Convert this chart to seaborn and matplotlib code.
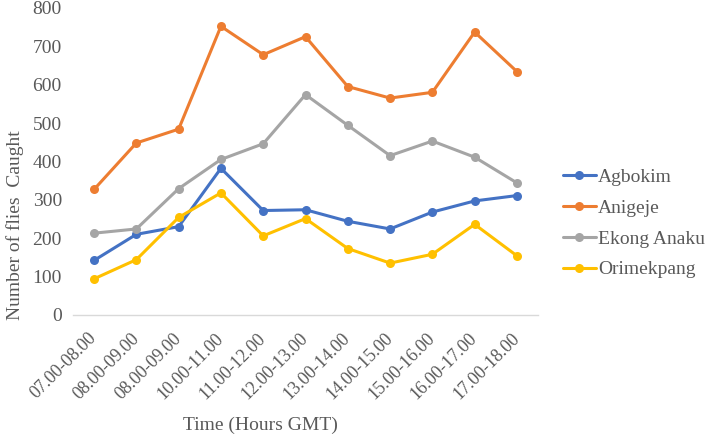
import pandas as pd
import matplotlib.pyplot as plt
import seaborn as sns

# time slots as printed on the chart (the third one is repeated in the source)
times = ['07.00-08.00', '08.00-09.00', '08.00-09.00', '10.00-11.00', '11.00-12.00',
         '12.00-13.00', '13.00-14.00', '14.00-15.00', '15.00-16.00', '16.00-17.00',
         '17.00-18.00']

agbokim = [142, 210, 230, 382, 272, 274, 244, 224, 268, 297, 311]
anigeje = [327, 448, 484, 752, 678, 725, 595, 565, 580, 737, 634]
ekong_anaku = [213, 224, 329, 405, 446, 574, 494, 415, 453, 411, 344]
orimekpang = [94, 144, 254, 318, 206, 251, 173, 135, 158, 236, 154]

sites = ['Agbokim', 'Anigeje', 'Ekong Anaku', 'Orimekpang']
colors = ['#4472C4', '#ED7D31', '#A5A5A5', '#FFC000']

rows = []
for site, vals in zip(sites, [agbokim, anigeje, ekong_anaku, orimekpang]):
    for i, v in enumerate(vals):
        rows.append({'pos': i, 'flies': v, 'site': site})
df = pd.DataFrame(rows)

sns.set_style('white')
plt.rcParams['font.family'] = ['Liberation Serif', 'DejaVu Serif']

fig = plt.figure(figsize=(7.08, 4.38), dpi=100)
ax = fig.add_axes([0.103, 0.281, 0.657, 0.701])

sns.lineplot(data=df, x='pos', y='flies', hue='site', palette=colors,
             marker='o', markersize=6.5, markeredgewidth=0, linewidth=2.2,
             sort=False, ax=ax)

ax.set_xlim(-0.5, len(times) - 0.5)
ax.set_ylim(0, 800)
ax.set_yticks(range(0, 801, 100))
ax.set_xticks(range(len(times)))
ax.set_xticklabels(times, rotation=45, ha='right', va='center',
                   rotation_mode='anchor')
ax.tick_params(axis='x', length=0, pad=15, labelsize=13, labelcolor='#595959')
ax.tick_params(axis='y', length=0, pad=8, labelsize=14, labelcolor='#595959')

for s in ['top', 'right', 'left']:
    ax.spines[s].set_visible(False)
ax.spines['bottom'].set_color('#D9D9D9')
ax.spines['bottom'].set_linewidth(1)

ax.set_xlabel('Time (Hours GMT)', fontsize=14, color='#595959')
ax.set_ylabel('Number of flies  Caught', fontsize=14, color='#595959')
ax.xaxis.set_label_coords(0.404, -0.333)
ax.yaxis.set_label_coords(-0.105, 0.293)

ax.legend(loc='center left', bbox_to_anchor=(0.795, 0.49),
          bbox_transform=fig.transFigure, frameon=False, fontsize=14,
          handlelength=1.7, handletextpad=0.1, labelspacing=0.68,
          borderaxespad=0, borderpad=0, labelcolor='#595959')

plt.savefig('out.png', dpi=100)
